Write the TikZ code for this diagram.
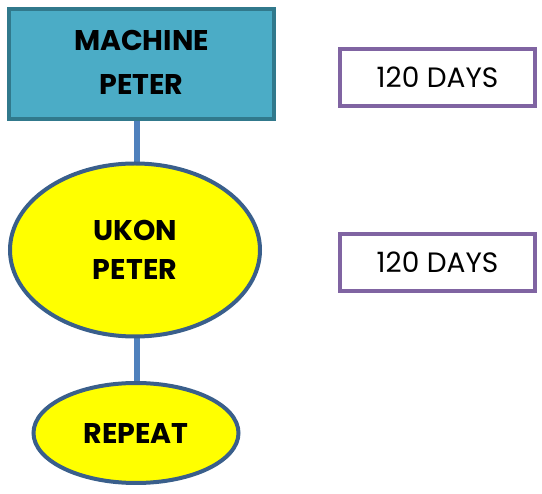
\documentclass[tikz,border=0pt]{standalone}
\usepackage{fontspec}
\setmainfont{Poppins}
\usetikzlibrary{shapes.geometric,backgrounds}
\definecolor{rectfill}{HTML}{4BACC6}
\definecolor{rectline}{HTML}{31798C}
\definecolor{ellfill}{HTML}{FFFF00}
\definecolor{ellline}{HTML}{3A5F8B}
\definecolor{conn}{HTML}{4F81BD}
\definecolor{purp}{HTML}{8064A2}
\tikzset{
  mainrect/.style={draw=rectline, fill=rectfill, line width=4.5pt, rectangle, minimum width=265pt, minimum height=110pt, inner sep=0pt, align=center, font=\bfseries\fontsize{28.5}{42}\selectfont},
  mainell/.style={draw=ellline, fill=ellfill, line width=4pt, ellipse, inner sep=0pt, align=center, font=\bfseries\fontsize{28.5}{39}\selectfont},
  daybox/.style={draw=purp, line width=3.5pt, rectangle, minimum width=195pt, minimum height=57pt, inner sep=0pt, font=\fontsize{28}{30}\selectfont},
  link/.style={draw=conn, line width=6pt}
}
\begin{document}
\begin{tikzpicture}[x=1pt,y=-1pt]
\useasboundingbox (0,0) rectangle (542,494);
\node[mainrect] (machine) at (141.5,64) {\raisebox{3pt}{\begin{tabular}{@{}c@{}}MACHINE\\[2pt]PETER\end{tabular}}};
\node[mainell, minimum width=250pt, minimum height=173pt] (ukon) at (135,250) {UKON\\PETER};
\node[mainell, minimum width=205pt, minimum height=100pt] (repeat) at (136,433) {REPEAT};
\node[daybox] (d1) at (437.5,77.5) {120 DAYS};
\node[daybox] (d2) at (437.5,262.5) {120 DAYS};
\coordinate (cx) at (137,0);
\begin{scope}[on background layer]
\draw[link] (machine.center -| cx) -- (ukon.center -| cx);
\draw[link] (ukon.center -| cx) -- (repeat.center -| cx);
\end{scope}
\end{tikzpicture}
\end{document}
